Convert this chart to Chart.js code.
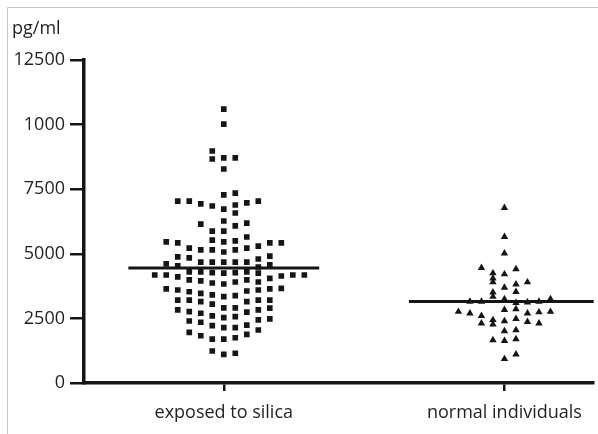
<!DOCTYPE html>
<html>
<head>
<meta charset="utf-8">
<script src="https://cdn.jsdelivr.net/npm/chart.js@4.4.1/dist/chart.umd.min.js"></script>
<style>
  html, body { margin: 0; padding: 0; background: #fff; }
  #wrap { width: 598px; height: 434px; }
</style>
</head>
<body>
<div id="wrap"><canvas id="myChart" width="598" height="434"></canvas></div>
<script>
var categories = ['exposed to silica', 'normal individuals'];
var yTickLabels = ['0', '2500', '5000', '7500', '1000', '12500'];
var unitLabel = 'pg/ml';

// exposed to silica: values (pg/ml) and column in the dot swarm
var exposedValues = [
    10600, 10020, 8980, 8670, 8710, 8710, 8280,
    7280, 7350, 7040, 7040, 6930, 6850, 6730, 6890, 6970, 7040, 6580,
    6150, 6270, 6080, 6190, 5880, 5880, 5530, 5460, 5500, 5650,
    5460, 5420, 5220, 5150, 5150, 5070, 5150, 5220, 5300, 5420, 5420,
    4880, 4840, 4680, 4680, 4680, 4680, 4680, 4800, 4910,
    4610, 4530, 4490, 4570,
    4180, 4180, 4110, 4300, 4300, 4270, 4250, 4270, 4300, 4250, 4050, 4140, 4180, 4180,
    3990, 3950, 3870, 3830, 3910, 3990, 3910,
    3640, 3600, 3530, 3470, 3410, 3340, 3380, 3560, 3600, 3640, 3660,
    3210, 3210, 3150, 3050, 2910, 2910, 3150, 3210, 3210, 2900,
    2830, 2760, 2700, 2600, 2530, 2570, 2740, 2830,
    2400, 2350, 2220, 2140, 2140, 2240, 2440, 2480,
    1960, 1830, 1700, 1700, 1750, 1880, 2050,
    1240, 1110, 1150
];
var exposedCols = [
    0, 0, -1, -1, 0, 1, 0,
    0, 1, -4, -3, -2, -1, 0, 1, 2, 3, 1,
    -2, 0, 1, 2, -1, 0, -1, 0, 1, 2,
    -5, -4, -3, -2, -1, 0, 1, 2, 3, 4, 5,
    -4, -3, -2, -1, 0, 1, 2, 3, 4,
    -5, -4, 3, 4,
    -6, -5, -4, -3, -2, -1, 0, 1, 2, 3, 4, 5, 6, 7,
    -3, -2, -1, 0, 1, 2, 3,
    -5, -4, -3, -2, -1, 0, 1, 2, 3, 4, 5,
    -4, -3, -2, -1, 0, 1, 2, 3, 4, 4,
    -4, -3, -2, -1, 0, 1, 2, 3,
    -3, -2, -1, 0, 1, 2, 3, 4,
    -3, -2, -1, 0, 1, 2, 3,
    -1, 0, 1
];
var exposedMean = 4450;

// normal individuals
var normalValues = [
    6780, 5660, 5020,
    4460, 4410, 4210, 4250, 4050, 3900, 3900, 3820, 3690, 3530, 3510, 3340,
    3150, 3150, 3250, 3100, 3120, 3150, 3250,
    2760, 2700, 2600, 2440, 2830, 2860, 2700, 2740, 2760,
    2310, 2270, 2400, 2480, 2370, 2310,
    2010, 2050,
    1660, 1630, 1700,
    1110, 930
];
var normalCols = [
    0, 0, 0,
    -2, 1, 0, -1, -1, -1, 2, 1, 0, 1, -1, -1,
    -3, -2, 0, 1, 2, 3, 4,
    -4, -3, -2, -1, 0, 1, 2, 3, 4,
    -2, -1, 0, 1, 2, 3,
    0, 1,
    -1, 0, 1,
    1, 0
];
var normalMean = 3150;

var colStep = 0.041;
var meanHalf = 0.34;
var ink = '#151515';
var textInk = '#231f20';
var fontFamily = 'Open Sans';

function swarm(values, cols, center) {
    return values.map(function (v, i) {
        return { x: center + cols[i] * colStep, y: v };
    });
}
function meanLine(mean, center) {
    return [{ x: center - meanHalf, y: mean }, { x: center + meanHalf, y: mean }];
}

var framePlugin = {
    id: 'frame',
    beforeDraw: function (chart) {
        var ctx = chart.ctx;
        ctx.save();
        ctx.strokeStyle = '#c4c4c4';
        ctx.lineWidth = 1;
        ctx.beginPath();
        ctx.moveTo(7.5, chart.height);
        ctx.lineTo(7.5, 7.5);
        ctx.lineTo(chart.width, 7.5);
        ctx.stroke();
        ctx.fillStyle = textInk;
        ctx.font = '18px "' + fontFamily + '"';
        ctx.textBaseline = 'middle';
        ctx.fillText(unitLabel, 12, 29);
        ctx.restore();
    }
};

function renderChart() {
    var ctx = document.getElementById('myChart').getContext('2d');
    new Chart(ctx, {
        type: 'scatter',
        data: {
            datasets: [{
                label: categories[0],
                data: swarm(exposedValues, exposedCols, 1),
                pointStyle: 'rect',
                pointRadius: 4,
                backgroundColor: ink,
                borderWidth: 0
            }, {
                label: categories[1],
                data: swarm(normalValues, normalCols, 2),
                pointStyle: 'triangle',
                pointRadius: 4.3,
                backgroundColor: ink,
                borderWidth: 0
            }, {
                type: 'line',
                data: meanLine(exposedMean, 1),
                showLine: true,
                borderColor: ink,
                borderWidth: 3,
                pointRadius: 0
            }, {
                type: 'line',
                data: meanLine(normalMean, 2),
                showLine: true,
                borderColor: ink,
                borderWidth: 3,
                pointRadius: 0
            }]
        },
        options: {
            responsive: false,
            animation: false,
            devicePixelRatio: 1,
            layout: { padding: { top: 60, left: 0, right: 0, bottom: 0 } },
            plugins: {
                legend: { display: false },
                tooltip: { enabled: false }
            },
            scales: {
                x: {
                    type: 'linear',
                    min: 0.502,
                    max: 2.318,
                    afterBuildTicks: function (scale) {
                        scale.ticks = [{ value: 1 }, { value: 2 }];
                    },
                    afterFit: function (scale) {
                        scale.height = 51;
                        scale.paddingLeft = 0;
                        scale.paddingRight = 0;
                    },
                    ticks: {
                        autoSkip: false,
                        maxRotation: 0,
                        padding: 11,
                        color: textInk,
                        font: { family: fontFamily, size: 18 },
                        callback: function (v) { return categories[v - 1]; }
                    },
                    grid: { drawOnChartArea: false, tickLength: 8, lineWidth: 2.5, color: ink },
                    border: { display: true, width: 3.5, color: ink }
                },
                y: {
                    min: 0,
                    max: 12500,
                    afterFit: function (scale) {
                        scale.width = 84;
                        scale.paddingTop = 0;
                        scale.paddingBottom = 0;
                    },
                    ticks: {
                        stepSize: 2500,
                        padding: 5,
                        color: textInk,
                        font: { family: fontFamily, size: 18 },
                        callback: function (v, i) { return yTickLabels[i]; }
                    },
                    grid: { drawOnChartArea: false, tickLength: 14, lineWidth: 2.5, color: ink },
                    border: { display: true, width: 3.5, color: ink }
                }
            }
        },
        plugins: [framePlugin]
    });
}

renderChart();
</script>
</body>
</html>
